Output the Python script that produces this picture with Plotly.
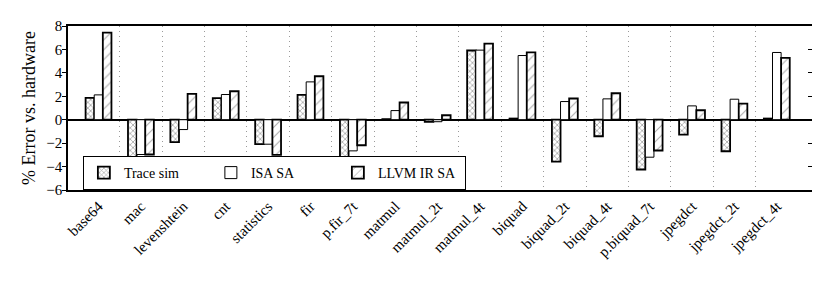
import plotly.graph_objects as go

categories = ["base64", "mac", "levenshtein", "cnt", "statistics", "fir", "p.fir_7t",
              "matmul", "matmul_2t", "matmul_4t", "biquad", "biquad_2t", "biquad_4t",
              "p.biquad_7t", "jpegdct", "jpegdct_2t", "jpegdct_4t"]
trace_sim = [1.86, -3.20, -1.92, 1.84, -2.09, 2.12, -3.57, 0.05, -0.19, 5.91,
             0.10, -3.57, -1.41, -4.25, -1.27, -2.69, 0.10]
isa_sa = [2.12, -2.97, -0.84, 2.15, -2.09, 3.23, -2.66, 0.78, -0.17, 5.94,
          5.48, 1.55, 1.78, -3.20, 1.18, 1.75, 5.74]
llvm_ir_sa = [7.44, -2.97, 2.20, 2.43, -3.00, 3.71, -2.18, 1.47, 0.38, 6.50,
              5.74, 1.81, 2.26, -2.63, 0.81, 1.38, 5.28]
series_names = ["Trace sim", "ISA SA", "LLVM IR SA"]
y_ticks = [-6, -4, -2, 0, 2, 4, 6, 8]

FONT = "Liberation Serif"
xpos = list(range(len(categories)))

fig = go.Figure()
fig.add_trace(go.Bar(
    x=xpos, y=trace_sim, name=series_names[0],
    marker=dict(color="white", line=dict(color="black", width=1.8),
                pattern=dict(shape="x", size=4, solidity=0.35, fgcolor="#444", bgcolor="white"))))
fig.add_trace(go.Bar(
    x=xpos, y=isa_sa, name=series_names[1],
    marker=dict(color="white", line=dict(color="black", width=1.0))))
fig.add_trace(go.Bar(
    x=xpos, y=llvm_ir_sa, name=series_names[2],
    marker=dict(color="white", line=dict(color="black", width=1.8),
                pattern=dict(shape="/", size=7, solidity=0.15, fgcolor="#555", bgcolor="white"))))
# invisible helper trace so the right-hand mirror axis is drawn
fig.add_trace(go.Scatter(x=[], y=[], yaxis="y2", showlegend=False, hoverinfo="skip"))

fig.update_layout(
    width=830, height=286,
    margin=dict(l=68, r=18, t=26, b=96),
    paper_bgcolor="white", plot_bgcolor="white",
    barmode="group", bargap=0.39, bargroupgap=0.0,
    font=dict(family=FONT, size=15, color="black"),
    xaxis=dict(
        range=[-0.72, 16.83], tickmode="array", tickvals=xpos, ticktext=categories,
        tickangle=-45, ticks="", showgrid=False, zeroline=False,
        showline=True, linecolor="black", linewidth=1.5, mirror=True,
        tickfont=dict(family=FONT, size=15, color="black"),
        minor=dict(tickmode="array", tickvals=[i + 0.5 for i in xpos[:-1]],
                   showgrid=True, gridcolor="#9a9a9a", griddash="1px,4px", gridwidth=1, ticks=""),
    ),
    yaxis=dict(
        range=[-6, 8], tickmode="array", tickvals=y_ticks,
        ticks="outside", ticklen=4, tickcolor="black", tickwidth=1,
        ticklabelstandoff=-3,
        showgrid=False, zeroline=True, zerolinecolor="black", zerolinewidth=1.5,
        showline=True, linecolor="black", linewidth=1.5,
        tickfont=dict(family=FONT, size=15, color="black"),
        title=dict(text="% Error vs. hardware", font=dict(family=FONT, size=18, color="black"), standoff=6),
    ),
    yaxis2=dict(
        range=[-6, 8], overlaying="y", side="right", tickmode="array", tickvals=y_ticks,
        ticks="inside", ticklen=4, tickcolor="black", showticklabels=False,
        showgrid=False, zeroline=False, showline=False,
    ),
    legend=dict(
        orientation="h", x=0.02, y=0, xanchor="left", yanchor="bottom",
        bgcolor="white", bordercolor="black", borderwidth=1,
        font=dict(family=FONT, size=14, color="black"),
        entrywidth=82, entrywidthmode="pixels", traceorder="normal",
        tracegroupgap=0,
    ),
    showlegend=True,
)

fig.write_html("out.html", config={"displayModeBar": False},
               post_script="document.body.style.margin='0';document.body.style.padding='0';")
